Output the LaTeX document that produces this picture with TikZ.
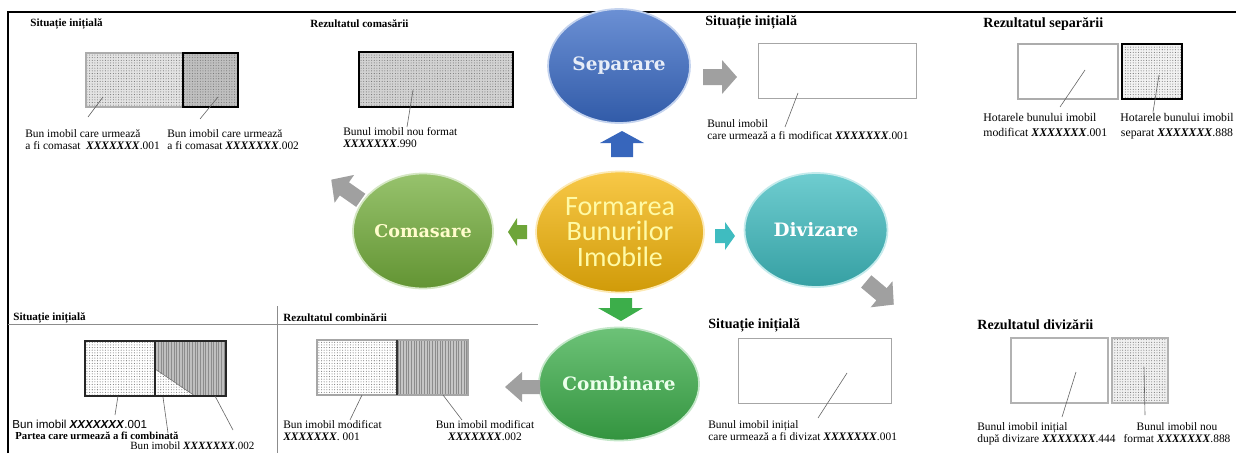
\documentclass[tikz,border=0pt]{standalone}
\usepackage{fontspec}
\setmainfont{Liberation Serif}
\newfontfamily\ballfont{DejaVu Serif}
\newfontfamily\hubfont{Carlito}
\newfontfamily\arialfont{Liberation Sans}
\usetikzlibrary{shapes.geometric,patterns.meta}

\definecolor{sepblue}{HTML}{3A6BC6}
\definecolor{comgreen}{HTML}{74AE3C}
\definecolor{divteal}{HTML}{3FBCC0}
\definecolor{combgreen}{HTML}{3CAE4A}
\definecolor{hubyellow}{HTML}{F5B60A}
\definecolor{arrowgray}{HTML}{A0A0A0}

\newcommand{\xcode}{\textbf{\textit{XXXXXXX}}}

\tikzset{
  hdrsmall/.style={font=\fontsize{6.3}{7}\selectfont\bfseries, anchor=west, inner sep=0pt},
  hdrbig/.style={font=\fontsize{8}{9}\selectfont\bfseries, anchor=west, inner sep=0pt},
  lbl/.style={font=\fontsize{6.5}{7}\selectfont, align=left, anchor=north west, inner sep=0pt},
  ball/.style={ellipse, inner sep=0pt, line width=1pt, top color=#1!75!white,
    bottom color=#1!85!black, draw=#1!30!white,
    font=\ballfont\bfseries\fontsize{10.5}{12}\selectfont},
  dotfill/.style={preaction={fill=#1}, pattern={Dots[distance=1.5pt,radius=0.3pt]},
    pattern color=black!55},
  linefill/.style={preaction={fill=#1}, pattern={Lines[angle=90,distance=1.5pt,line width=0.3pt]},
    pattern color=black!45},
  leader/.style={draw=black!60, line width=0.35pt},
}

\begin{document}
\begin{tikzpicture}[x=0.02cm, y=-0.02cm]
    \useasboundingbox (0,0) rectangle (1236,453);

    % frame
    \draw[line width=0.8pt] (8,453) -- (8,12) -- (1236,12);
    \draw[black!45, line width=0.5pt] (8,324) -- (538,324);
    \draw[black!45, line width=0.5pt] (277,306) -- (277,453);

    % circles
    \node[ball=sepblue, minimum width=2.84cm, minimum height=2.28cm, text=sepblue!12!white] (separare) at (619,66) {Separare};
    \node[ball=hubyellow, minimum width=3.36cm, minimum height=2.42cm, align=center, text=yellow!35!white,
      font=\hubfont\fontsize{16}{14.7}\selectfont] (formare) at (620,232) {Formarea\\Bunurilor\\Imobile};
    \node[ball=comgreen, minimum width=2.8cm, minimum height=2.3cm, text=yellow!20!white,
      font=\ballfont\bfseries\fontsize{10}{12}\selectfont] (comasare) at (423,231) {Comasare};
    \node[ball=divteal, minimum width=2.86cm, minimum height=2.28cm, text=white] (divizare) at (816,230) {Divizare};
    \node[ball=combgreen, minimum width=2.76cm, minimum height=2.26cm, text=green!8!white] (combinare) at (619,384) {Combinare};

    % block arrows
    \fill[sepblue!95!black] (622,131) -- (644,143) -- (633,143) -- (633,157) -- (611,157) -- (611,143) -- (600,143) -- cycle;
    \fill[arrowgray] (703,69) -- (722,69) -- (722,60) -- (737,77) -- (722,94) -- (722,85) -- (703,85) -- cycle;
    \fill[comgreen!95!black] (527,225) -- (517,225) -- (517,218) -- (508,232) -- (517,246) -- (517,239) -- (527,239) -- cycle;
    \fill[divteal] (715,229) -- (725,229) -- (725,222) -- (735,236) -- (725,250) -- (725,243) -- (715,243) -- cycle;
    \fill[combgreen] (610,298) -- (632,298) -- (632,308) -- (643,308) -- (621,321) -- (598,308) -- (610,308) -- cycle;
    \fill[arrowgray] (540,380) -- (522,380) -- (522,372) -- (505,387) -- (522,402) -- (522,394) -- (540,394) -- cycle;
    \begin{scope}[shift={(346,190)}, rotate=145]
        \fill[arrowgray] (-18,-8) -- (2,-8) -- (2,-17) -- (18,0) -- (2,17) -- (2,8) -- (-18,8) -- cycle;
    \end{scope}
    \begin{scope}[shift={(880,293)}, rotate=-40]
        \fill[arrowgray] (-18,-8) -- (2,-8) -- (2,-17) -- (18,0) -- (2,17) -- (2,8) -- (-18,8) -- cycle;
    \end{scope}

    % comasare: initial situation and result
    \node[hdrsmall] (hdrcomA) at (30,24) {Situație inițială};
    \draw[dotfill=gray!22, draw=gray!65, line width=0.9pt] (86,53) rectangle (183,107);
    \draw[dotfill=gray!50, draw=black, line width=1.1pt] (183,53) rectangle (238,107);
    \draw[leader] (103,97) -- (88,117);
    \draw[leader] (218,97) -- (200,119);
    \node[lbl] (lblcomA) at (25,129) {Bun imobil care urmează\\a fi comasat \ \xcode.001};
    \node[lbl] (lblcomB) at (167,129) {Bun imobil care urmează\\a fi comasat \xcode.002};

    \node[hdrsmall] (hdrcomB) at (310,24) {Rezultatul comasării};
    \draw[dotfill=gray!35, draw=black, line width=1.3pt] (359,52) rectangle (513,107);
    \draw[leader] (413,90) -- (407,127);
    \node[lbl] (lblcomC) at (343,127) {Bunul imobil nou format\\\xcode.990};

    % separare: initial situation and result
    \node[hdrbig] (hdrsepA) at (705,22) {Situație inițială};
    \draw[gray!70, line width=0.5pt] (758,43) rectangle (916,98);
    \draw[leader] (798,93) -- (785,127);
    \node[lbl] (lblsepA) at (707,119) {Bunul imobil\\care urmează a fi modificat \xcode.001};

    \node[hdrbig] (hdrsepB) at (983,24) {Rezultatul separării};
    \draw[gray!65, line width=0.6pt] (1018,44) rectangle (1118,99);
    \draw[dotfill=gray!10, draw=black, line width=1.4pt] (1122,44) rectangle (1182,99);
    \draw[leader] (1085,70) -- (1060,107);
    \draw[leader] (1159,75) -- (1153,112);
    \node[lbl, font=\fontsize{6.7}{8.5}\selectfont] (lblsepB) at (983,113) {Hotarele bunului imobil\\modificat \xcode.001};
    \node[lbl, font=\fontsize{6.7}{8.5}\selectfont, align=center, anchor=north] (lblsepC) at (1177,113) {Hotarele bunului imobil\\separat \xcode.888};

    % combinare: initial situation and result
    \node[hdrsmall] (hdrcombA) at (13,318) {Situație inițială};
    \path[dotfill=white] (85,341) rectangle (155,396);
    \path[linefill=gray!50] (155,341) -- (226,341) -- (226,396) -- (195,396) -- (155,369) -- cycle;
    \path[dotfill=white] (155,369) -- (195,396) -- (155,396) -- cycle;
    \draw[black!60, line width=0.3pt] (155,369) -- (195,396);
    \draw[black!85, line width=0.9pt] (85,341) rectangle (226,396);
    \draw[black!85, line width=0.9pt] (155,341) -- (155,396);
    \draw[leader] (118,396) -- (115,415);
    \draw[leader] (163,397) -- (168,433);
    \draw[leader] (215,396) -- (233,430);
    \node[anchor=west, inner sep=0pt, font=\arialfont\fontsize{6.6}{7}\selectfont] (lblcombA) at (12,424) {Bun imobil \xcode.001};
    \node[anchor=west, inner sep=0pt, font=\fontsize{6.1}{7}\selectfont\bfseries] (lblcombB) at (15,436) {Partea care urmează a fi combinată};
    \node[anchor=west, inner sep=0pt, font=\fontsize{6.3}{7}\selectfont] (lblcombC) at (130,446) {Bun imobil \xcode.002};

    \node[hdrsmall] (hdrcombB) at (283,318) {Rezultatul combinării};
    \draw[dotfill=white, draw=gray!70, line width=0.6pt] (317,340) rectangle (397,395);
    \draw[linefill=gray!45, draw=gray!70, line width=0.6pt] (397,340) rectangle (468,395);
    \draw[black!80, line width=0.6pt] (397,340) -- (397,395);
    \draw[leader] (362,395) -- (350,420);
    \draw[leader] (443,395) -- (462,420);
    \node[lbl] (lblcombD) at (283,420) {Bun imobil modificat\\\xcode. 001};
    \node[lbl, align=center, anchor=north] (lblcombE) at (485,420) {Bun imobil modificat\\\xcode.002};

    % divizare: initial situation and result
    \node[hdrbig] (hdrdivA) at (708,325) {Situație inițială};
    \draw[gray!70, line width=0.5pt] (738,338) rectangle (891,403);
    \draw[leader] (847,373) -- (818,418);
    \node[lbl] (lbldivA) at (708,420) {Bunul imobil inițial\\care urmează a fi divizat \xcode.001};

    \node[hdrbig] (hdrdivB) at (977,325) {Rezultatul divizării};
    \draw[gray!60, line width=1.2pt] (1011,338) rectangle (1108,403);
    \draw[dotfill=gray!12, draw=gray!60, line width=1.2pt] (1112,338) rectangle (1168,403);
    \draw[leader] (1076,372) -- (1062,417);
    \draw[leader] (1144,367) -- (1145,415);
    \node[lbl] (lbldivB) at (977,422) {Bunul imobil inițial\\după divizare \xcode.444};
    \node[lbl, align=center, anchor=north] (lbldivC) at (1177,422) {Bunul imobil nou\\format \xcode.888};

\end{tikzpicture}
\end{document}
